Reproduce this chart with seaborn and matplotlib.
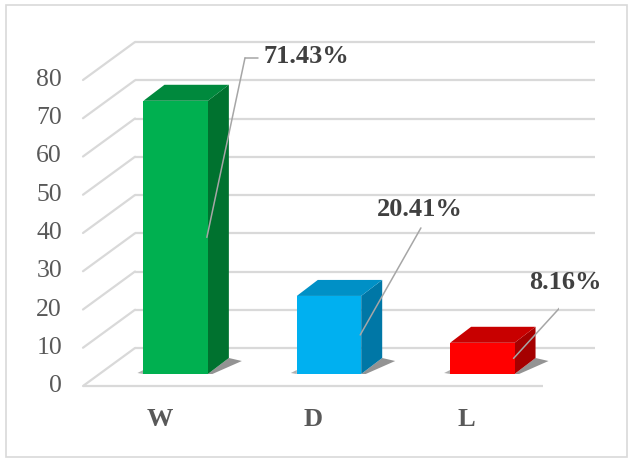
import matplotlib
matplotlib.use("Agg")
import matplotlib.pyplot as plt
from matplotlib.transforms import ScaledTranslation
from matplotlib.patches import Polygon, Rectangle
import seaborn as sns
import pandas as pd

# ---- data ----
categories = ["W", "D", "L"]
values = [71.43, 20.41, 8.16]
value_labels = ["71.43%", "20.41%", "8.16%"]
yticks = [0, 10, 20, 30, 40, 50, 60, 70, 80]

front_colors = ["#00B050", "#00B0F0", "#FF0000"]
top_colors = ["#00893D", "#0090C6", "#C80000"]
side_colors = ["#00722F", "#0077A6", "#A50000"]

sns.set_style("white")
plt.rcParams["font.family"] = ["Liberation Serif", "DejaVu Serif"]

W, H, DPI = 634, 459, 100
fig = plt.figure(figsize=(W / DPI, H / DPI), dpi=DPI)
ax = fig.add_axes([99 / W, 85 / H, 460 / W, 344.25 / H])
ax.set_xlim(-0.5, 2.5)
ax.set_ylim(0, 90)

df = pd.DataFrame({"cat": categories, "val": values})
sns.barplot(data=df, x="cat", y="val", hue="cat", palette=front_colors,
            width=0.42, saturation=1, legend=False, ax=ax, zorder=5,
            edgecolor="none")
ax.set_xlim(-0.5, 2.5)
ax.set_ylim(0, 90)
ax.axis("off")

def off(dx, dy):
    return ax.transData + ScaledTranslation(dx / DPI, dy / DPI, fig.dpi_scale_trans)

# pixel-to-data scale
px_x = 460 / 3.0
px_y = 344.25 / 90.0

# ---- gridlines (front plane offset (-16,-12) px, back (+36,+26) px) ----
grid_c = "#D9D9D9"
for v in yticks:
    # back wall
    ax.plot([-0.5, 2.5], [v, v], color=grid_c, lw=1.6, transform=off(36, 26),
            zorder=1, clip_on=False, solid_capstyle="butt")
    # side diagonal from front to back
    x0 = -0.5 - 16 / px_x
    y0 = v - 12 / px_y
    x1 = -0.5 + 36 / px_x
    y1 = v + 26 / px_y
    ax.plot([x0, x1], [y0, y1], color=grid_c, lw=1.6, zorder=1, clip_on=False)
    ax.text(-0.5, v, str(v), transform=off(-37, -12), ha="right", va="center",
            fontsize=18.5, color="#595959")
# floor front line
ax.plot([-0.5, 2.5], [0, 0], color=grid_c, lw=1.6, transform=off(-16, -12),
        zorder=1, clip_on=False, solid_capstyle="butt")

# category labels
for i, c in enumerate(categories):
    ax.text(i, 0, c, transform=off(-16, -46), ha="center", va="center",
            fontsize=19, fontweight="bold", color="#595959")

# ---- 3D faces ----
ddx = 21 / px_x
ddy = 16 / px_y
bars = [p for p in ax.patches if isinstance(p, Rectangle)]
bars = sorted(bars, key=lambda p: p.get_x())
for i, p in enumerate(bars):
    x, w, h = p.get_x(), p.get_width(), p.get_height()
    xr = x + w
    # shadow
    shadow = Polygon([(xr, -2 / px_y), (xr + 34 / px_x, 13 / px_y),
                      (xr + ddx, ddy), (xr, 0)], closed=True,
                     facecolor="#3a3a3a", edgecolor="none", alpha=0.55, zorder=2)
    ax.add_patch(shadow)
    shadow2 = Polygon([(x, 0), (x - 6 / px_x, 1 / px_y), (x, 4 / px_y)], closed=True,
                      facecolor="#3a3a3a", edgecolor="none", alpha=0.4, zorder=2)
    ax.add_patch(shadow2)
    side = Polygon([(xr, 0), (xr, h), (xr + ddx, h + ddy), (xr + ddx, ddy)],
                   closed=True, facecolor=side_colors[i], edgecolor="none", zorder=4)
    top = Polygon([(x, h), (xr, h), (xr + ddx, h + ddy), (x + ddx, h + ddy)],
                  closed=True, facecolor=top_colors[i], edgecolor="none", zorder=4)
    ax.add_patch(side)
    ax.add_patch(top)

# ---- data labels with leader lines ----
label_pos = [(0.85, 82.9), (1.593, 42.9), (2.539, 23.8)]
lead_c = "#A6A6A6"
for i, p in enumerate(bars):
    xr = p.get_x() + p.get_width()
    h = p.get_height()
    lx, ly = label_pos[i]
    ax.text(lx, ly, value_labels[i], ha="center", va="center", fontsize=19,
            fontweight="bold", color="#404040", zorder=6)
    if i == 0:
        sx, sy = lx - 61 / px_x, ly - 1 / px_y
        ax.plot([sx, sx + 13 / px_x], [sy, sy], color=lead_c, lw=1.1, zorder=6)
    else:
        sx, sy = lx + 1 / px_x, ly - 18 / px_y
    ax.plot([sx, xr - 1 / px_x], [sy, h / 2], color=lead_c, lw=1.1, zorder=6)

# chart border
fig.patches.append(Rectangle((6 / W, 2 / H), 621 / W, 452 / H, transform=fig.transFigure,
                             fill=False, edgecolor="#D9D9D9", lw=1.2))

fig.savefig("out.png", dpi=DPI)
